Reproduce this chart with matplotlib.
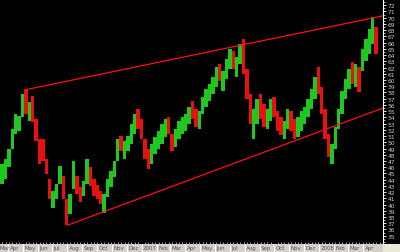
import matplotlib
matplotlib.use('Agg')
import matplotlib.pyplot as plt
import matplotlib.dates as mdates
import matplotlib.transforms as mtransforms
from matplotlib.patches import Rectangle
from matplotlib.ticker import MultipleLocator
import numpy as np
import pandas as pd

# weekly bars (Mar 2006 - Apr 2008)
week_start = '2006-03-20'
high = [46.5, 47.3, 48.9, 52.1, 54.5, 54.2, 57.8, 58.4, 56.5, 57.4,
        53.7, 50.5, 50.5, 47.3, 44.1, 42.2, 43.3, 46.2, 44.6, 40.9,
        41.7, 47.0, 44.6, 42.8, 43.8, 47.3, 46.0, 44.1, 43.1, 42.2,
        41.7, 44.1, 45.4, 47.0, 50.5, 51.0, 50.2, 51.0, 52.9, 54.5,
        55.3, 53.7, 50.5, 48.9, 49.7, 50.8, 51.8, 52.9, 53.7, 54.1,
        51.3, 52.1, 53.4, 54.1, 54.5, 55.7, 56.6, 55.3, 55.0, 57.3,
        58.6, 59.4, 60.5, 62.1, 62.6, 61.4, 63.4, 65.0, 64.7, 63.7,
        65.8, 66.6, 61.8, 57.8, 55.3, 57.0, 57.8, 56.1, 55.3, 57.0,
        57.3, 55.0, 54.1, 53.4, 55.3, 55.0, 53.7, 54.1, 55.0, 55.7,
        57.0, 58.6, 60.5, 62.1, 58.9, 55.3, 51.3, 49.7, 52.5, 55.3,
        58.2, 60.2, 61.8, 62.9, 62.6, 62.1, 65.0, 66.6, 68.2, 70.1,
        68.5]
low = [43.3, 44.1, 46.0, 48.9, 51.3, 51.8, 54.1, 54.5, 53.4, 53.3,
       50.2, 46.5, 47.0, 44.9, 40.9, 39.5, 40.9, 43.3, 40.9, 36.7,
       38.5, 42.5, 41.7, 40.4, 41.4, 43.3, 43.0, 41.4, 40.9, 40.1,
       38.7, 41.2, 42.8, 44.4, 47.0, 48.6, 47.3, 48.6, 49.7, 51.3,
       52.1, 50.5, 47.3, 45.7, 46.5, 48.1, 48.9, 49.7, 50.8, 51.3,
       48.6, 49.2, 50.5, 51.3, 51.8, 52.9, 53.7, 52.5, 52.1, 54.5,
       55.7, 56.6, 57.8, 58.9, 59.8, 58.2, 60.2, 61.8, 61.8, 60.5,
       62.6, 61.0, 57.0, 52.9, 50.5, 52.9, 53.7, 52.5, 52.1, 53.4,
       54.1, 51.8, 51.2, 50.5, 52.1, 51.8, 50.5, 50.8, 51.8, 52.9,
       54.1, 55.3, 57.0, 57.8, 54.5, 50.5, 47.6, 46.5, 48.9, 52.1,
       54.5, 57.0, 58.6, 59.4, 58.9, 58.1, 61.4, 63.0, 64.2, 65.8,
       64.2]
close = [46.0, 46.8, 48.5, 51.6, 53.0, 53.8, 57.0, 55.0, 55.8, 54.0,
         50.8, 48.0, 47.8, 45.2, 41.5, 41.8, 42.8, 43.8, 41.2, 38.0,
         41.0, 44.0, 42.2, 42.0, 43.2, 44.5, 43.5, 42.0, 41.5, 40.5,
         41.0, 43.5, 45.0, 46.5, 49.5, 49.0, 49.8, 50.5, 52.5, 54.0,
         53.0, 51.0, 48.0, 47.0, 48.8, 50.0, 51.2, 52.2, 53.0, 52.0,
         49.5, 51.5, 53.0, 53.5, 54.2, 55.2, 54.5, 53.0, 54.5, 56.8,
         57.5, 59.0, 60.0, 61.5, 60.5, 60.8, 62.8, 63.5, 62.5, 63.2,
         64.0, 61.5, 57.5, 53.5, 54.5, 56.0, 54.5, 53.5, 54.8, 56.0,
         54.5, 52.5, 52.0, 53.0, 54.0, 52.5, 51.5, 53.5, 54.5, 55.3,
         56.5, 58.0, 60.0, 58.5, 55.0, 51.0, 48.2, 49.0, 52.0, 54.8,
         57.5, 59.8, 61.2, 60.0, 61.5, 59.0, 64.5, 66.0, 67.5, 69.0,
         65.0]
first_open = 44.0

# trend channel end points
trend_dates = ['2006-05-05', '2008-05-12']
upper_trend = [58.4, 70.3]
lower_dates = ['2006-08-02', '2008-05-12']
lower_trend = [36.7, 55.5]

month_labels = ['Apr', 'May', 'Jun', 'Jul', 'Aug', 'Sep', 'Oct', 'Nov', 'Dec', '2007',
                'Feb', 'Mar', 'Apr', 'May', 'Jun', 'Jul', 'Aug', 'Sep', 'Oct', 'Nov',
                'Dec', '2008', 'Feb', 'Mar', 'Apr']

dates = pd.date_range(week_start, periods=len(close), freq='7D')
high = np.array(high)
low = np.array(low)
close = np.array(close)
opens = np.concatenate([[first_open], close[:-1]])
colors = np.where(close >= opens, '#1ec81e', '#e81010')

fig = plt.figure(figsize=(4.0, 2.53), dpi=100, facecolor='black')
W, H = 400.0, 253.0
PT = 0.72  # points per pixel at 100 dpi
ax = fig.add_axes([0, 8 / H, 383 / W, 245 / H], facecolor='black')

# bottom date strip and corner
fig.add_artist(Rectangle((0, 0), 383 / W, 8 / H, transform=fig.transFigure,
                         facecolor='#d4d0c8', edgecolor='none', zorder=0))
fig.add_artist(Rectangle((383 / W, 0), 17 / W, 8 / H, transform=fig.transFigure,
                         facecolor='#ece9d8', edgecolor='none', zorder=0))

ax.bar(dates, high - low, bottom=low, width=7.0, color=colors, linewidth=0)

ax.plot(pd.to_datetime(trend_dates), upper_trend, color='#ff1010', lw=0.9)
ax.plot(pd.to_datetime(lower_dates), lower_trend, color='#ff1010', lw=0.9)

ax.set_xlim(pd.Timestamp('2006-03-15 12:00'), pd.Timestamp('2008-05-12'))
ax.set_ylim(33.67, 73.0)

# x axis: month separators in the strip, weekly ticks above it
month_starts = pd.date_range('2006-04-01', periods=len(month_labels), freq='MS')
ax.set_xticks(month_starts)
ax.set_xticklabels(month_labels)
ax.xaxis.set_minor_locator(mdates.WeekdayLocator(byweekday=mdates.MO))
ax.tick_params(axis='x', which='major', direction='out', length=8 * PT, width=0.8,
               color='white', labelsize=4.0, labelcolor='#505050', pad=-7 * PT)
ax.tick_params(axis='x', which='minor', direction='in', length=2 * PT, width=0.6, color='#c0c0c0')
shift = mtransforms.ScaledTranslation(1.5 / 100, 0, fig.dpi_scale_trans)
for lab in ax.get_xticklabels():
    lab.set_horizontalalignment('left')
    lab.set_transform(lab.get_transform() + shift)
# "Mar" for the partial first month
ax.annotate('Mar', xy=(0, 0), xycoords='axes fraction', xytext=(0, -1 * PT),
            textcoords='offset points', fontsize=4.0, color='#505050', ha='left', va='top')

# y axis on the right
ax.yaxis.tick_right()
ax.yaxis.set_minor_locator(MultipleLocator(0.5))
ax.set_yticks(np.arange(35, 73, 1))
ax.tick_params(axis='y', which='major', direction='out', length=3 * PT, width=0.6,
               color='white', labelsize=4.3, labelcolor='#c8c8c8', pad=2 * PT)
ax.tick_params(axis='y', which='minor', direction='out', length=1.5 * PT, width=0.5, color='white')

for side in ['top', 'left', 'bottom']:
    ax.spines[side].set_visible(False)
ax.spines['right'].set_color('white')
ax.spines['right'].set_linewidth(0.8)

fig.savefig('out.png', dpi=100, facecolor='black')
